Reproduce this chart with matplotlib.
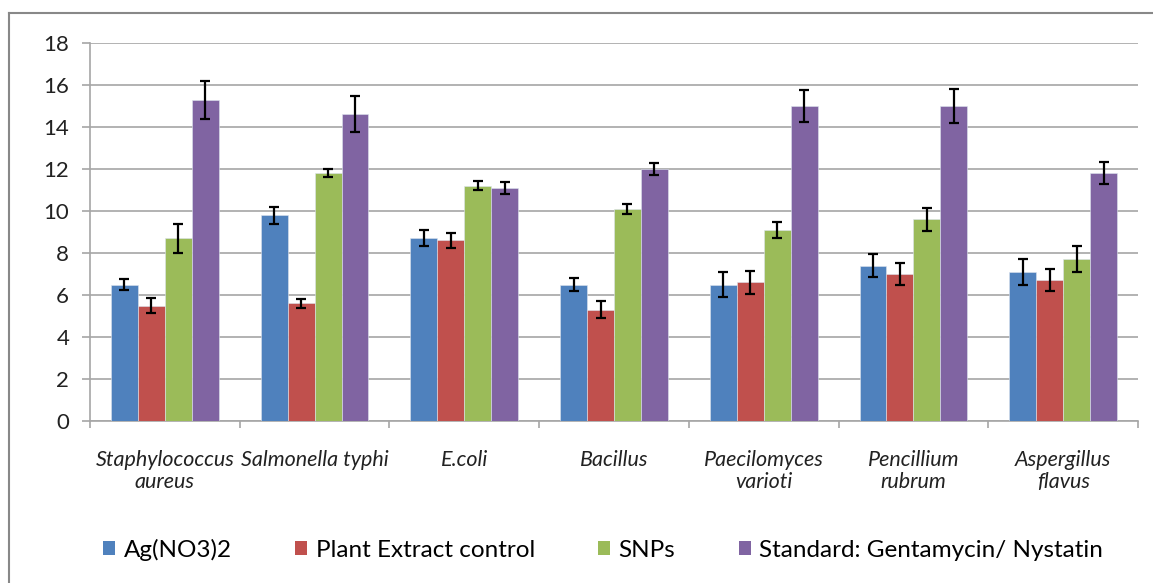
import numpy as np
import matplotlib.pyplot as plt
from matplotlib.patches import Patch
from matplotlib.lines import Line2D

# Data
categories = ["Staphylococcus\naureus", "Salmonella typhi", "E.coli", "Bacillus",
              "Paecilomyces\nvarioti", "Pencillium\nrubrum", "Aspergillus\nflavus"]
series_names = ["Ag(NO3)2", "Plant Extract control", "SNPs", "Standard: Gentamycin/ Nystatin"]

ag_no3 = [6.5, 9.8, 8.7, 6.5, 6.5, 7.4, 7.1]
ag_no3_err = [0.25, 0.4, 0.38, 0.3, 0.6, 0.55, 0.6]
plant_extract = [5.5, 5.6, 8.6, 5.3, 6.6, 7.0, 6.7]
plant_extract_err = [0.38, 0.22, 0.35, 0.4, 0.54, 0.54, 0.52]
snps = [8.7, 11.8, 11.2, 10.1, 9.1, 9.6, 7.7]
snps_err = [0.7, 0.2, 0.22, 0.22, 0.37, 0.56, 0.62]
standard = [15.3, 14.6, 11.1, 12.0, 15.0, 15.0, 11.8]
standard_err = [0.9, 0.86, 0.29, 0.29, 0.74, 0.83, 0.53]

colors = ["#4F81BD", "#C0504D", "#9BBB59", "#8064A2"]

plt.rcParams["font.family"] = ["Lato", "DejaVu Sans"]

fig = plt.figure(figsize=(11.53, 5.83), dpi=100)
ax = fig.add_axes([90 / 1153, 1 - 421 / 583, (1138 - 90) / 1153, (421 - 43) / 583])

# outer chart border (top and left only visible)
fig.add_artist(Line2D([9 / 1153, 9 / 1153], [0, 1 - 13 / 583], transform=fig.transFigure,
                      color="#888888", lw=1.5))
fig.add_artist(Line2D([9 / 1153, 1], [1 - 13 / 583, 1 - 13 / 583], transform=fig.transFigure,
                      color="#888888", lw=1.5))

x = np.arange(len(categories))
width = 0.18
values = [ag_no3, plant_extract, snps, standard]
errors = [ag_no3_err, plant_extract_err, snps_err, standard_err]

for i, (vals, errs) in enumerate(zip(values, errors)):
    pos = x + (i - 1.5) * width
    ax.bar(pos, vals, width, color=colors[i], edgecolor="#dde4ee", linewidth=0.4, zorder=3)
    ax.errorbar(pos, vals, yerr=errs, fmt="none", ecolor="black", elinewidth=1.6,
                capsize=3.5, capthick=1.6, zorder=4)

ax.set_xlim(-0.5, len(categories) - 0.5)
ax.set_ylim(0, 18)
ax.set_yticks(range(0, 19, 2))
ax.yaxis.grid(True, color="#a6a6a6", linewidth=1.2, zorder=0)
ax.set_axisbelow(True)

for side in ["top", "right"]:
    ax.spines[side].set_visible(False)
for side in ["left", "bottom"]:
    ax.spines[side].set_color("#a6a6a6")
    ax.spines[side].set_linewidth(1.2)

ax.tick_params(axis="y", length=6, color="#a6a6a6", width=1.2, labelsize=16, pad=9,
               labelcolor="#222222")
ax.set_xticks(x)
ax.set_xticklabels(categories, fontstyle="italic", fontsize=15.5, linespacing=1.1)
ax.tick_params(axis="x", which="major", length=0, pad=21, labelcolor="#222222")
ax.set_xticks(np.arange(-0.5, len(categories), 1), minor=True)
ax.tick_params(axis="x", which="minor", length=5, color="#a6a6a6", width=1.2)

handles = [Patch(facecolor=c, edgecolor="none") for c in colors]
fig.legend(handles, series_names, loc="center", bbox_to_anchor=(0.523, 1 - 550 / 583),
           ncol=4, frameon=False, fontsize=17.5, handlelength=0.5, handleheight=0.5,
           handletextpad=0.35, columnspacing=2.6)

fig.savefig("out.png", dpi=100)
